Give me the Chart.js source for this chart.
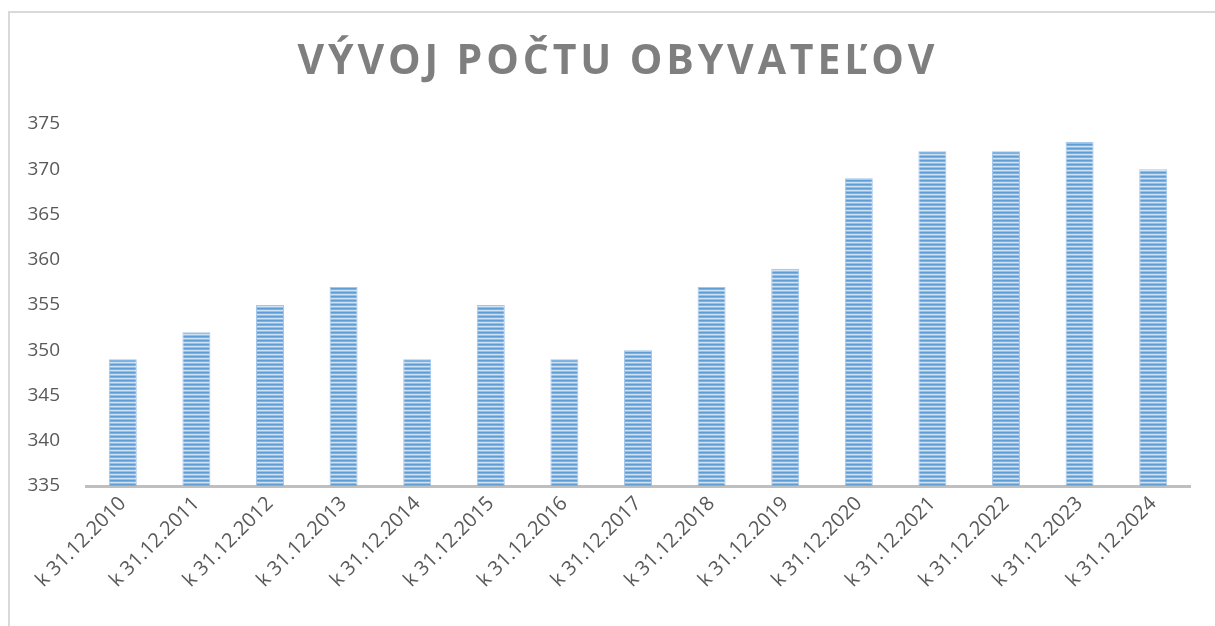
<!DOCTYPE html>
<html>
<head>
<meta charset="utf-8">
<script src="https://cdn.jsdelivr.net/npm/chart.js@4.4.1/dist/chart.umd.min.js"></script>
<style>
html,body{margin:0;padding:0;background:#fff;}
canvas{display:block;}
</style>
</head>
<body>
<canvas id="c" width="1215" height="626"></canvas>
<script>
const chartTitle = "VÝVOJ POČTU OBYVATEĽOV";
const categories = ["k 31.12.2010","k 31.12.2011","k 31.12.2012","k 31.12.2013","k 31.12.2014","k 31.12.2015","k 31.12.2016","k 31.12.2017","k 31.12.2018","k 31.12.2019","k 31.12.2020","k 31.12.2021","k 31.12.2022","k 31.12.2023","k 31.12.2024"];
const population = [349,352,355,357,349,355,349,350,357,359,369,372,372,373,370];
const yMin = 335, yMax = 375, yStep = 5;

function makePattern(){
  const p = document.createElement('canvas');
  p.width = 4; p.height = 4;
  const g = p.getContext('2d');
  const rows = ['#5e9dd6','#7bb0e0','#cfe2f4','#97bfe6'];
  rows.forEach((c,i)=>{ g.fillStyle=c; g.fillRect(0,i,4,1); });
  return document.getElementById('c').getContext('2d').createPattern(p,'repeat');
}

const framePlugin = {
  id:'frame',
  beforeDraw(chart){
    const ctx = chart.ctx;
    ctx.save();
    ctx.fillStyle='#fff';
    ctx.fillRect(0,0,chart.width,chart.height);
    ctx.strokeStyle='#d9d9d9';
    ctx.lineWidth=2;
    ctx.beginPath();
    ctx.moveTo(9,chart.height);
    ctx.lineTo(9,12);
    ctx.lineTo(chart.width,12);
    ctx.stroke();
    ctx.restore();
  },
  afterDraw(chart){
    const ctx = chart.ctx;
    ctx.save();
    ctx.font = 'bold 41px "Open Sans"';
    ctx.fillStyle = '#7f7f7f';
    ctx.textBaseline = 'middle';
    const target = 637;
    const n = [...chartTitle].length;
    const w0 = ctx.measureText(chartTitle).width;
    const ls = Math.max(0,(target - w0)/(n-1));
    ctx.letterSpacing = ls + 'px';
    const w = ctx.measureText(chartTitle).width - ls;
    ctx.textAlign='left';
    ctx.fillText(chartTitle, 616 - w/2, 62);
    ctx.restore();
  }
};

new Chart(document.getElementById('c'), {
  type:'bar',
  data:{
    labels:categories,
    datasets:[{
      data:population,
      backgroundColor:makePattern(),
      borderColor:'rgba(140,185,228,0.8)',
      borderWidth:1,
      barPercentage:0.38,
      categoryPercentage:1
    }]
  },
  options:{
    responsive:false,
    animation:false,
    layout:{padding:{top:124,left:10,right:25,bottom:0}},
    plugins:{legend:{display:false},tooltip:{enabled:false},title:{display:false}},
    scales:{
      x:{
        grid:{display:false,drawTicks:false},
        border:{display:true,color:'#bfbfbf',width:3},
        ticks:{color:'#595959',font:{family:'"Open Sans"',size:20},minRotation:45,maxRotation:45,padding:6,autoSkip:false},
        afterFit(s){ s.height = 140; }
      },
      y:{
        min:yMin,max:yMax,
        grid:{display:false,drawTicks:false},
        border:{display:false},
        ticks:{stepSize:yStep,color:'#595959',font:{family:'"Open Sans"',size:19},padding:26},
        afterFit(s){ s.width = 76; }
      }
    }
  },
  plugins:[framePlugin]
});
</script>
</body>
</html>
